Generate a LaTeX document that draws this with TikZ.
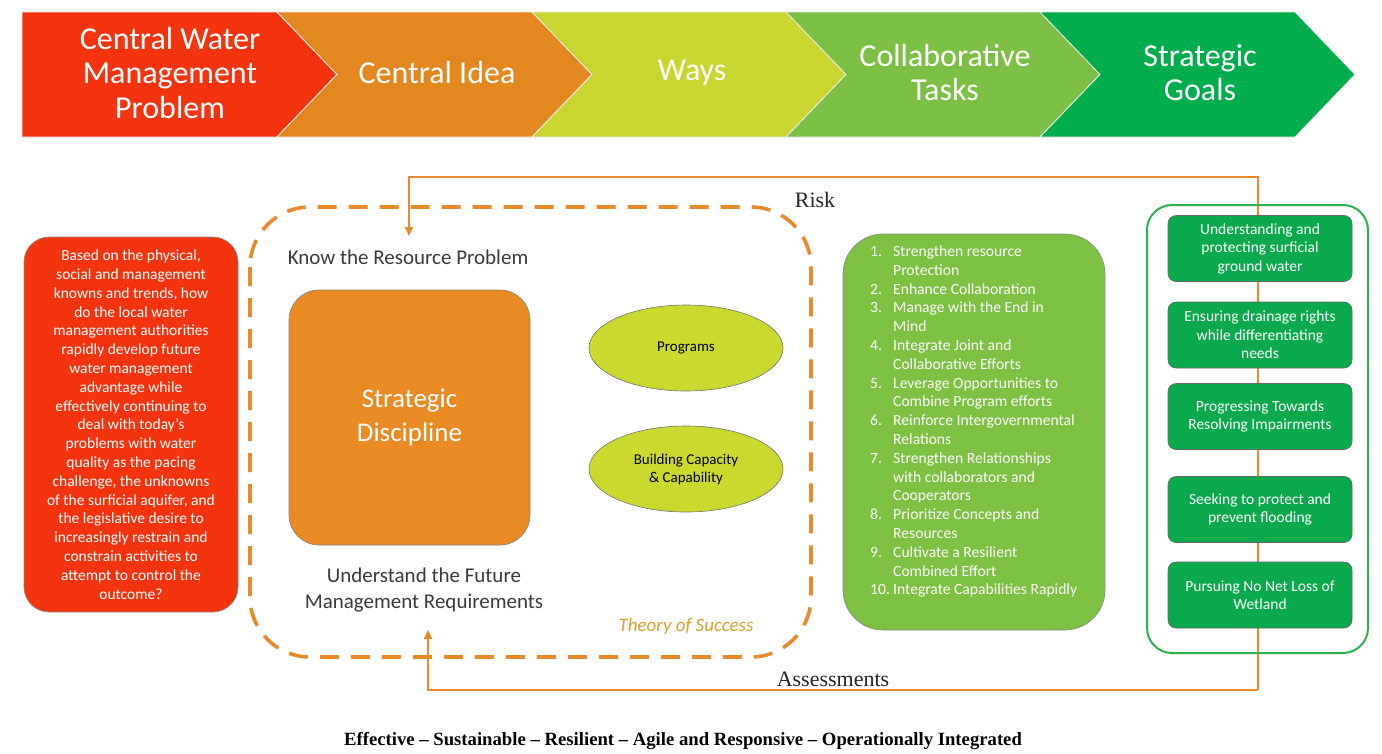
\documentclass[tikz,border=0pt]{standalone}
\usepackage{fontspec}
\setmainfont{Carlito}
\newfontfamily\tnr{Liberation Serif}
\usetikzlibrary{arrows.meta,shapes.geometric}
\definecolor{cRed}{HTML}{F4330F}
\definecolor{cOrg}{HTML}{E3871F}
\definecolor{cYel}{HTML}{C9D62F}
\definecolor{cLGr}{HTML}{7CBF45}
\definecolor{cGr}{HTML}{00AD4C}
\definecolor{cSD}{HTML}{E98A23}
\definecolor{cEll}{HTML}{CBD92E}
\definecolor{cTask}{HTML}{7CC142}
\definecolor{cGoal}{HTML}{0AA94B}
\definecolor{cGoalOut}{HTML}{2DB24A}
\definecolor{cDash}{HTML}{E8892A}
\definecolor{cTxt}{HTML}{3A3A3A}
\definecolor{cTheory}{HTML}{D9A030}
\begin{document}
\begin{tikzpicture}[x=1pt,y=-1pt,
  chev/.style={draw=white!85!gray,line width=0.8pt},
  bantext/.style={text=white,font=\fontsize{32}{34.5}\selectfont,align=center},
  smallwhite/.style={text=white,font=\fontsize{15.5}{18.8}\selectfont,align=center},
  goalbox/.style={draw=black!60,line width=0.6pt,fill=cGoal,rounded corners=8pt,minimum width=184pt,minimum height=66pt,text=white,font=\fontsize{15.5}{18.5}\selectfont,align=center,inner sep=0pt},
  ellnode/.style={ellipse,draw=black!55,line width=0.6pt,fill=cEll,minimum width=194pt,minimum height=86pt,font=\fontsize{15}{18}\selectfont,text=black,align=center,inner sep=0pt},
  flow/.style={draw=cDash,line width=1.7pt},
  tip/.style={-{Triangle[length=9pt,width=8pt]}},
  darktext/.style={text=cTxt,font=\fontsize{21}{26}\selectfont,align=center},
  serifl/.style={font=\tnr\fontsize{22}{24}\selectfont,text=black!85}
]
\useasboundingbox (0,0) rectangle (1382,753);
\fill[white] (0,0) rectangle (1382,753);

% ---------- banner ----------
\path[chev,fill=cRed] (22,12) -- (277,12) -- (337,74.5) -- (277,137) -- (22,137) -- cycle;
\path[chev,fill=cOrg] (277,12) -- (532,12) -- (592,74.5) -- (532,137) -- (277,137) -- (337,74.5) -- cycle;
\path[chev,fill=cYel] (532,12) -- (786,12) -- (846,74.5) -- (786,137) -- (532,137) -- (592,74.5) -- cycle;
\path[chev,fill=cLGr] (786,12) -- (1040,12) -- (1100,74.5) -- (1040,137) -- (786,137) -- (846,74.5) -- cycle;
\path[chev,fill=cGr] (1040,12) -- (1295,12) -- (1355,74.5) -- (1295,137) -- (1040,137) -- (1100,74.5) -- cycle;
\node[bantext] (b1) at (170,72.5) {Central Water\\Management\\Problem};
\node[bantext] (b2) at (437,72.5) {Central Idea};
\node[bantext] (b3) at (692,72.5) {Ways};
\node[bantext] (b4) at (945,72.5) {Collaborative\\Tasks};
\node[bantext] (b5) at (1200,72.5) {Strategic\\Goals};

% ---------- loop (Risk / Assessments) ----------
\coordinate (rtop) at (1258,177);
\coordinate (rbot) at (1258,690);
\coordinate (knowin) at (409,236);
\coordinate (undin) at (428,630);
\draw[flow,tip] (rbot) -- (rtop) -| (knowin);
\draw[flow,tip] (rbot) -| (undin);
\node[serifl] (risk) at (815,200) {Risk};
\node[serifl] (assess) at (833,679) {Assessments};

% ---------- problem box ----------
\node[draw=black!45,line width=0.6pt,fill=cRed,rounded corners=25pt,minimum width=214pt,minimum height=375pt,inner sep=0pt,smallwhite] (prob) at (131,424.5)
{Based on the physical,\\social and management\\knowns and trends, how\\do the local water\\management authorities\\rapidly develop future\\water management\\advantage while\\effectively continuing to\\deal with today's\\problems with water\\quality as the pacing\\challenge, the unknowns\\of the surficial aquifer, and\\the legislative desire to\\increasingly restrain and\\constrain activities to\\attempt to control the\\outcome?};

% ---------- theory of success (dashed) ----------
\draw[draw=cDash,line width=3.6pt,dash pattern=on 19pt off 12pt,rounded corners=60pt] (250,207) rectangle (811,657);
\node[darktext] (know) at (408,257) {Know the Resource Problem};
\node[draw=black!50,line width=0.6pt,fill=cSD,rounded corners=30pt,minimum width=241pt,minimum height=255pt,inner sep=0pt,text=white,font=\fontsize{27}{34}\selectfont,align=center] (sd) at (409.5,417.5) {Strategic\\Discipline};
\node[darktext] (und) at (424,590) {Understand the Future\\Management Requirements};
\node[ellnode] (prog) at (686,348) {Programs};
\node[ellnode] (build) at (686,469) {Building Capacity\\\& Capability};
\node[text=cTheory,font=\itshape\fontsize{19}{22}\selectfont] (theory) at (686,626) {Theory of Success};

% ---------- collaborative tasks ----------
\node[draw=black!45,line width=0.6pt,fill=cTask,rounded corners=40pt,minimum width=262pt,minimum height=396pt,inner sep=0pt] (tasks) at (974,432) {};
\node[anchor=west,inner sep=0pt,text=white,font=\fontsize{15.6}{18.8}\selectfont] (tasklist) at (870,422)
{\begin{tabular}{@{}p{23pt}@{}l@{}}
1. & Strengthen resource\\
   & Protection\\
2. & Enhance Collaboration\\
3. & Manage with the End in\\
   & Mind\\
4. & Integrate Joint and\\
   & Collaborative Efforts\\
5. & Leverage Opportunities to\\
   & Combine Program efforts\\
6. & Reinforce Intergovernmental\\
   & Relations\\
7. & Strengthen Relationships\\
   & with collaborators and\\
   & Cooperators\\
8. & Prioritize Concepts and\\
   & Resources\\
9. & Cultivate a Resilient\\
   & Combined Effort\\
10. & Integrate Capabilities Rapidly
\end{tabular}};

% ---------- strategic goals ----------
\draw[draw=cGoalOut,line width=2pt,rounded corners=25pt] (1147,205) rectangle (1368,653);
\node[goalbox] (g1) at (1260,248.5) {Understanding and\\protecting surficial\\ground water};
\node[goalbox] (g2) at (1260,335) {Ensuring drainage rights\\while differentiating\\needs};
\node[goalbox] (g3) at (1260,416.5) {Progressing Towards\\Resolving Impairments};
\node[goalbox] (g4) at (1260,509.5) {Seeking to protect and\\prevent flooding};
\node[goalbox] (g5) at (1260,595) {Pursuing No Net Loss of\\Wetland};

% ---------- footer ----------
\node[font=\tnr\bfseries\fontsize{18.7}{20}\selectfont,text=black] (foot) at (683,741) {Effective \textendash{} Sustainable \textendash{} Resilient \textendash{} Agile and Responsive \textendash{} Operationally Integrated};
\end{tikzpicture}
\end{document}
